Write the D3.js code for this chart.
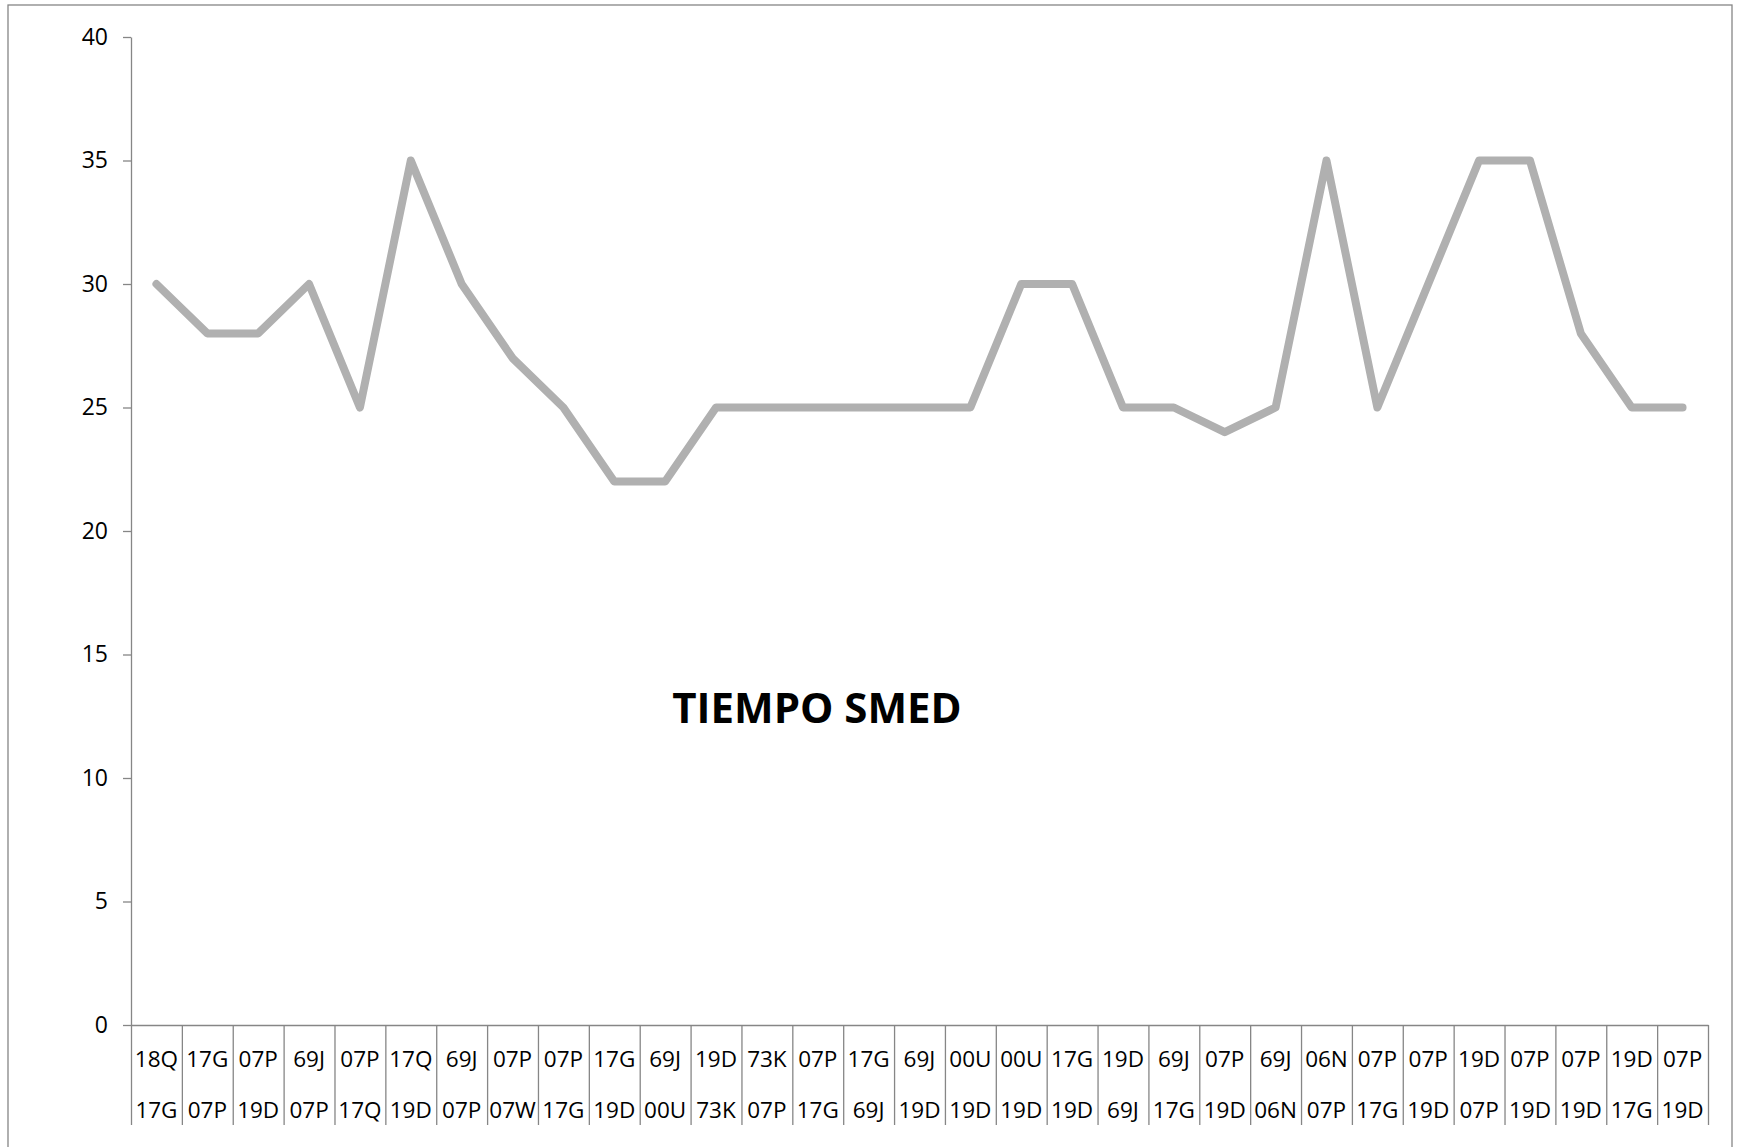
<!DOCTYPE html>
<html>
<head>
<meta charset="utf-8">
<script src="https://cdn.jsdelivr.net/npm/d3@7"></script>
<style>
  body { margin: 0; background: #fff; }
  svg { display: block; }
  text { font-family: "Open Sans", "DejaVu Sans", sans-serif; fill: #000; }
</style>
</head>
<body>
<div id="chart"></div>
<script>
// data
const catTop = ["18Q","17G","07P","69J","07P","17Q","69J","07P","07P","17G","69J","19D","73K","07P","17G","69J",
                "00U","00U","17G","19D","69J","07P","69J","06N","07P","07P","19D","07P","07P","19D","07P"];
const catBottom = ["17G","07P","19D","07P","17Q","19D","07P","07W","17G","19D","00U","73K","07P","17G","69J","19D",
                   "19D","19D","19D","69J","17G","19D","06N","07P","17G","19D","07P","19D","19D","17G","19D"];
const tiempo = [30,28,28,30,25,35,30,27,25,22,22,25,25,25,25,25,25,30,30,25,25,24,25,35,25,30,35,35,28,25,25];
const yTicks = [0,5,10,15,20,25,30,35,40];
const title = "TIEMPO SMED";

const W = 1743, H = 1147;
const margin = { top: 37, right: 35, bottom: 122, left: 131 };
const axisColor = "#868686";

const svg = d3.select("#chart").append("svg")
    .attr("width", W)
    .attr("height", H);

// chart area border
svg.append("rect")
    .attr("x", 8).attr("y", 5)
    .attr("width", 1724).attr("height", 1200)
    .attr("fill", "none")
    .attr("stroke", axisColor)
    .attr("stroke-width", 1.3);

const idx = d3.range(tiempo.length);

const x = d3.scaleBand()
    .domain(idx)
    .range([margin.left, W - margin.right]);

// boundaries between categories, used for the long separator ticks
const xb = d3.scaleLinear()
    .domain([0, tiempo.length])
    .range([margin.left, W - margin.right]);

const y = d3.scaleLinear()
    .domain([0, 40])
    .range([H - margin.bottom, margin.top]);

// y axis
const gy = svg.append("g")
    .attr("transform", `translate(${margin.left},0)`)
    .call(d3.axisLeft(y).tickValues(yTicks).tickSize(8).tickPadding(15).tickSizeOuter(0));
gy.select(".domain").attr("stroke", axisColor).attr("stroke-width", 1.3);
gy.selectAll(".tick line").attr("stroke", axisColor).attr("stroke-width", 1.3);
gy.selectAll(".tick text")
    .attr("font-size", 23)
    .attr("font-family", "'Open Sans', sans-serif")
    .attr("fill", "#000");

// x axis with separators
const gx = svg.append("g")
    .attr("transform", `translate(0,${H - margin.bottom})`)
    .call(d3.axisBottom(xb).tickValues(d3.range(tiempo.length + 1)).tickSize(100).tickFormat("").tickSizeOuter(0));
gx.select(".domain").attr("stroke", axisColor).attr("stroke-width", 1.3);
gx.selectAll(".tick line").attr("stroke", axisColor).attr("stroke-width", 1.3);

// two-row category labels
const labels = svg.append("g").attr("font-size", 22.5).attr("text-anchor", "middle");
labels.selectAll(".top")
    .data(idx)
    .join("text")
    .attr("class", "top")
    .attr("x", d => x(d) + x.bandwidth() / 2)
    .attr("y", H - margin.bottom + 42)
    .text(d => catTop[d]);
labels.selectAll(".bottom")
    .data(idx)
    .join("text")
    .attr("class", "bottom")
    .attr("x", d => x(d) + x.bandwidth() / 2)
    .attr("y", H - margin.bottom + 93)
    .text(d => catBottom[d]);

// the line
const line = d3.line()
    .x(d => x(d) + x.bandwidth() / 2)
    .y(d => y(tiempo[d]));

svg.append("path")
    .datum(idx)
    .attr("fill", "none")
    .attr("stroke", "#b0b0b0")
    .attr("stroke-width", 8)
    .attr("stroke-linejoin", "round")
    .attr("stroke-linecap", "round")
    .attr("d", line);

// title inside the plot
svg.append("text")
    .attr("x", 817)
    .attr("y", 723)
    .attr("text-anchor", "middle")
    .attr("font-size", 42)
    .attr("font-weight", "bold")
    .text(title);
</script>
</body>
</html>
